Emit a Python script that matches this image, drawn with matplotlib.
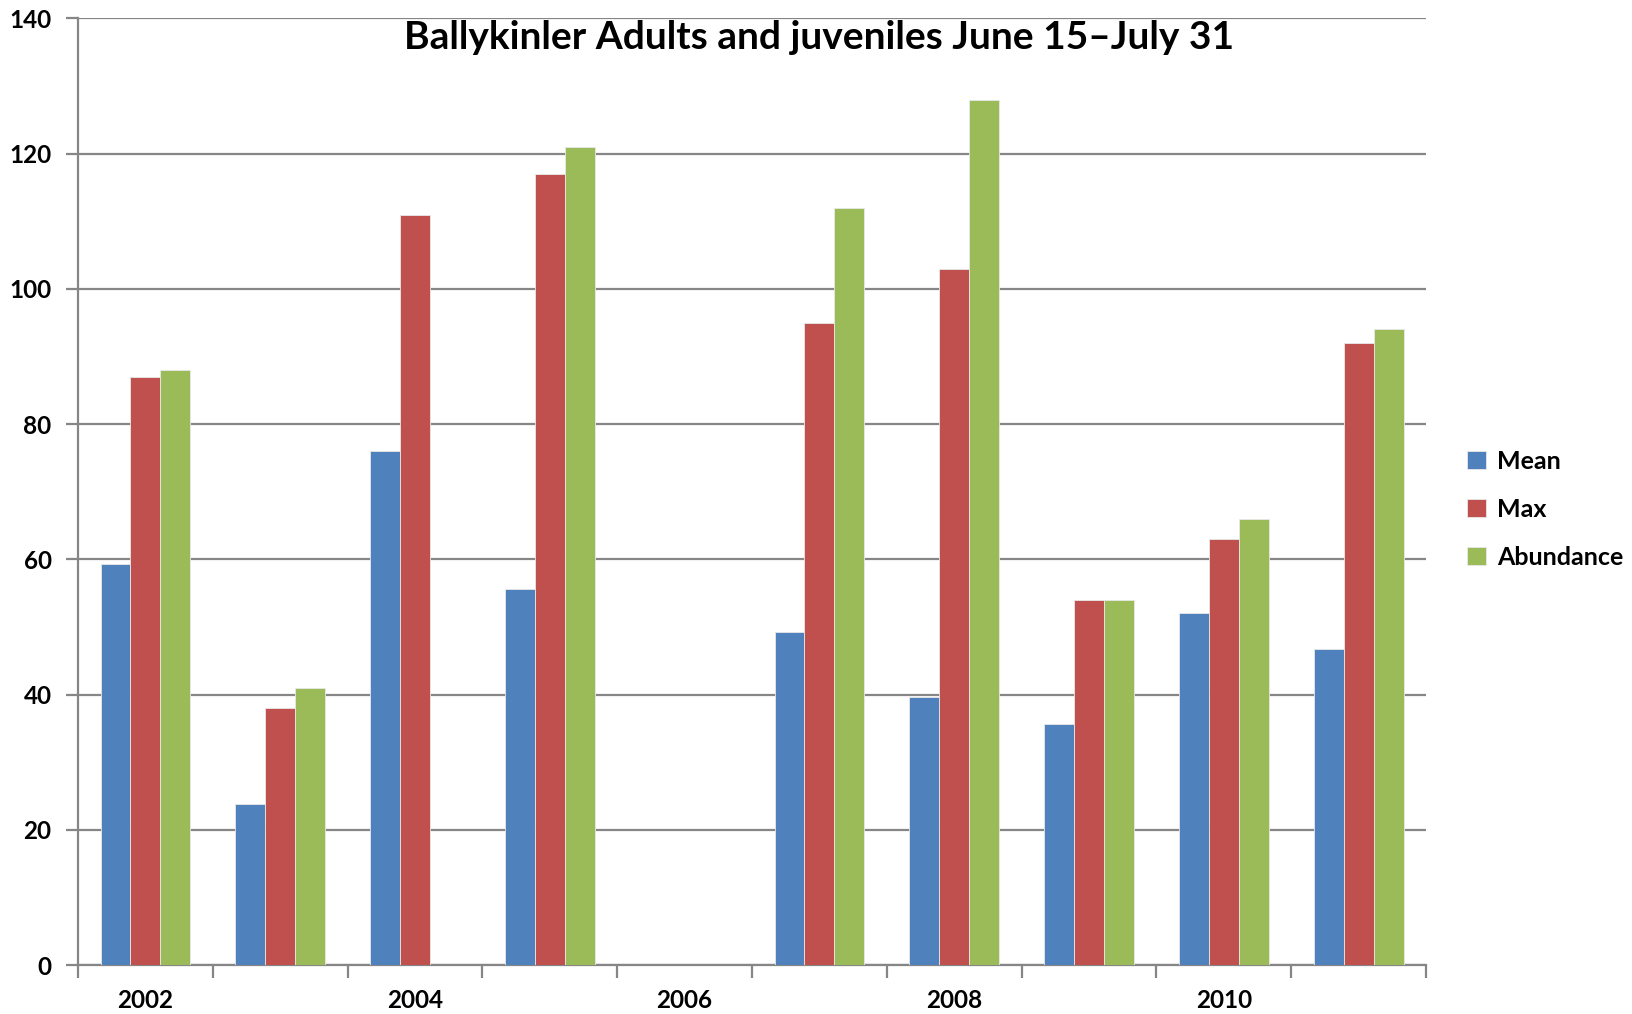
import numpy as np
import matplotlib.pyplot as plt

# data
years = ['2002', '2003', '2004', '2005', '2006', '2007', '2008', '2009', '2010', '2011']
mean = [59.3, 23.8, 76, 55.6, np.nan, 49.3, 39.7, 35.7, 52, 46.7]
maxv = [87, 38, 111, 117, np.nan, 95, 103, 54, 63, 92]
abundance = [88, 41, np.nan, 121, np.nan, 112, 128, 54, 66, 94]
series_names = ['Mean', 'Max', 'Abundance']
colors = ['#4F81BD', '#C0504D', '#9BBB59']

plt.rcParams['font.family'] = ['Lato', 'DejaVu Sans']
plt.rcParams['font.weight'] = 'bold'

fig = plt.figure(figsize=(16.32, 10.14), dpi=100)
ax = fig.add_axes([0.0478, 0.0483, 0.826, 0.9335])

x = np.arange(len(years))
w = 0.222
for i, (vals, name, c) in enumerate(zip([mean, maxv, abundance], series_names, colors)):
    ax.bar(x + (i - 1) * w, vals, width=w, color=c, label=name,
           edgecolor='#e8e8e8', linewidth=0.6, zorder=3)

ax.set_xlim(-0.5, len(years) - 0.5)
ax.set_ylim(0, 140)
ax.set_yticks(range(0, 141, 20))
ax.yaxis.grid(True, color='#868686', linewidth=1.6, zorder=0)

# category labels every other year, tick marks at category boundaries
ax.set_xticks(x[::2])
ax.set_xticklabels(years[::2])
ax.set_xticks(np.arange(-0.5, len(years), 1), minor=True)
ax.tick_params(axis='x', which='major', length=0, pad=17, labelsize=17.5)
ax.tick_params(axis='x', which='minor', length=9, width=1.6, color='#868686')
ax.tick_params(axis='y', length=9, width=1.6, color='#868686', labelsize=17.5, pad=10)

for s in ['top', 'right']:
    ax.spines[s].set_visible(False)
for s in ['left', 'bottom']:
    ax.spines[s].set_color('#868686')
    ax.spines[s].set_linewidth(1.6)

fig.text(0.502, 0.963, 'Ballykinler Adults and juveniles June 15\u2013July 31',
         ha='center', va='center', fontsize=28, fontweight='bold')

fig.legend(loc='center left', bbox_to_anchor=(0.899, 0.498), frameon=False,
           fontsize=18, handlelength=0.75, handleheight=0.75, labelspacing=1.0,
           handletextpad=0.45, borderpad=0, borderaxespad=0)

plt.savefig('out.png', dpi=100)
